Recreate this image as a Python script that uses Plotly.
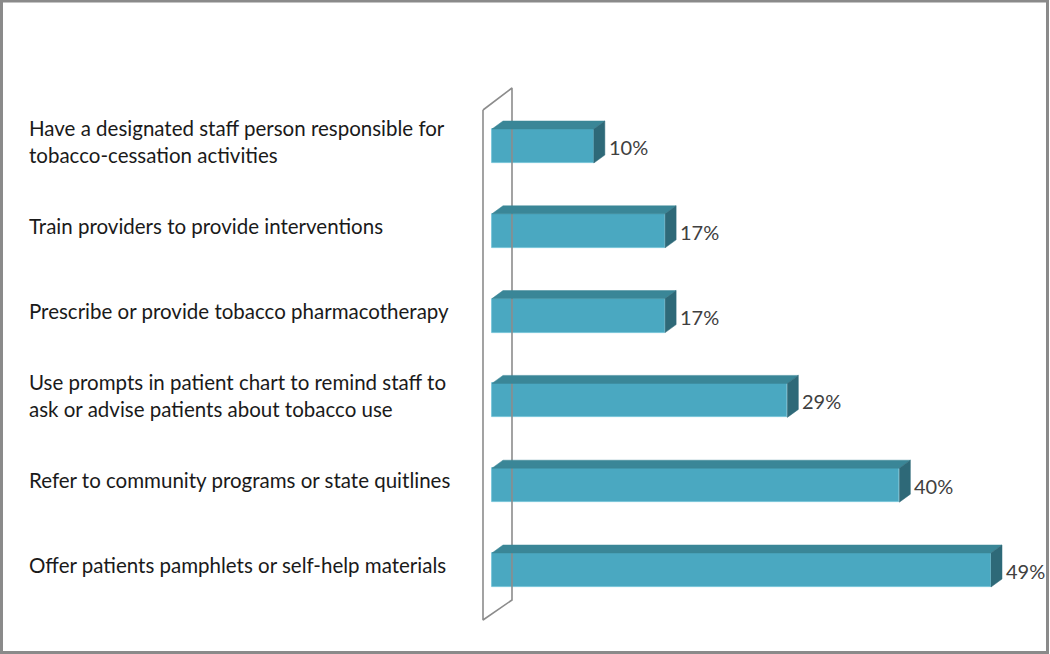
import plotly.graph_objects as go

categories = [
    "Have a designated staff person responsible for<br>tobacco-cessation activities",
    "Train providers to provide interventions",
    "Prescribe or provide tobacco pharmacotherapy",
    "Use prompts in patient chart to remind staff to<br>ask or advise patients about tobacco use",
    "Refer to community programs or state quitlines",
    "Offer patients pamphlets or self-help materials",
]
values = [10, 17, 17, 29, 40, 49]
value_labels = ["10%", "17%", "17%", "29%", "40%", "49%"]

W, H = 1050, 654
PX_PER_PCT = (991 - 492) / 49.0
X0_PX = 492
Y0_PX = 146
PX_PER_ROW = 84.8

def xpx(p):
    return (p - X0_PX) / PX_PER_PCT

def ypx(p):
    return (p - Y0_PX) / PX_PER_ROW

HALF = 17 / PX_PER_ROW
DX = 11 / PX_PER_PCT
DY = 8 / PX_PER_ROW

FRONT = "#4AA8C1"
TOP = "#3A8697"
SIDE = "#2E6978"
WALL = "#8C8C8C"

fig = go.Figure()

# back wall (parallelogram outline)
wx = [xpx(483), xpx(512), xpx(512), xpx(483), xpx(483)]
wy = [ypx(110), ypx(88), ypx(600), ypx(620), ypx(110)]
fig.add_trace(go.Scatter(x=wx, y=wy, mode="lines", line=dict(color=WALL, width=1.6),
                         hoverinfo="skip", showlegend=False))

ys = list(range(len(values)))

# front faces
fig.add_trace(go.Bar(x=values, y=ys, orientation="h", width=2 * HALF, base=0,
                     marker=dict(color=FRONT, line=dict(color="#6CC0D6", width=0.8)),
                     showlegend=False, hoverinfo="skip"))

for i, v in zip(ys, values):
    top_x = [0, v, v + DX, DX, 0]
    top_y = [i - HALF, i - HALF, i - HALF - DY, i - HALF - DY, i - HALF]
    fig.add_trace(go.Scatter(x=top_x, y=top_y, mode="lines", fill="toself",
                             fillcolor=TOP, line=dict(color=TOP, width=0.5),
                             hoverinfo="skip", showlegend=False))
    side_x = [v, v + DX, v + DX, v, v]
    side_y = [i - HALF, i - HALF - DY, i + HALF - DY, i + HALF, i - HALF]
    fig.add_trace(go.Scatter(x=side_x, y=side_y, mode="lines", fill="toself",
                             fillcolor=SIDE, line=dict(color=SIDE, width=0.5),
                             hoverinfo="skip", showlegend=False))

annotations = []
for i, (c, v, lab) in enumerate(zip(categories, values, value_labels)):
    annotations.append(dict(x=xpx(27), y=i - 5 / PX_PER_ROW, xref="x", yref="y",
                            text=c, showarrow=False, xanchor="left", yanchor="middle",
                            align="left",
                            font=dict(family="Lato, Carlito, sans-serif", size=20.5, color="#1A1A1A")))
    annotations.append(dict(x=v + DX + 2 / PX_PER_PCT, y=i + 1 / PX_PER_ROW, xref="x", yref="y",
                            text=lab, showarrow=False, xanchor="left", yanchor="middle",
                            font=dict(family="Lato, Carlito, sans-serif", size=20, color="#404040")))

fig.update_layout(
    width=W, height=H,
    margin=dict(l=0, r=0, t=0, b=0),
    paper_bgcolor="white", plot_bgcolor="white",
    xaxis=dict(range=[xpx(0), xpx(W)], visible=False, fixedrange=True),
    yaxis=dict(range=[ypx(H), ypx(0)], visible=False, fixedrange=True),
    annotations=annotations,
    shapes=[dict(type="rect", xref="paper", yref="paper",
                 x0=1.5 / W, x1=1047.5 / W, y0=1 - 652.5 / H, y1=1 - 1 / H,
                 line=dict(color="#8A8A8A", width=3))],
    bargap=0,
)

fig.write_html("out.html", config={"displayModeBar": False},
               post_script="document.body.style.margin='0';document.body.style.overflow='hidden';")
